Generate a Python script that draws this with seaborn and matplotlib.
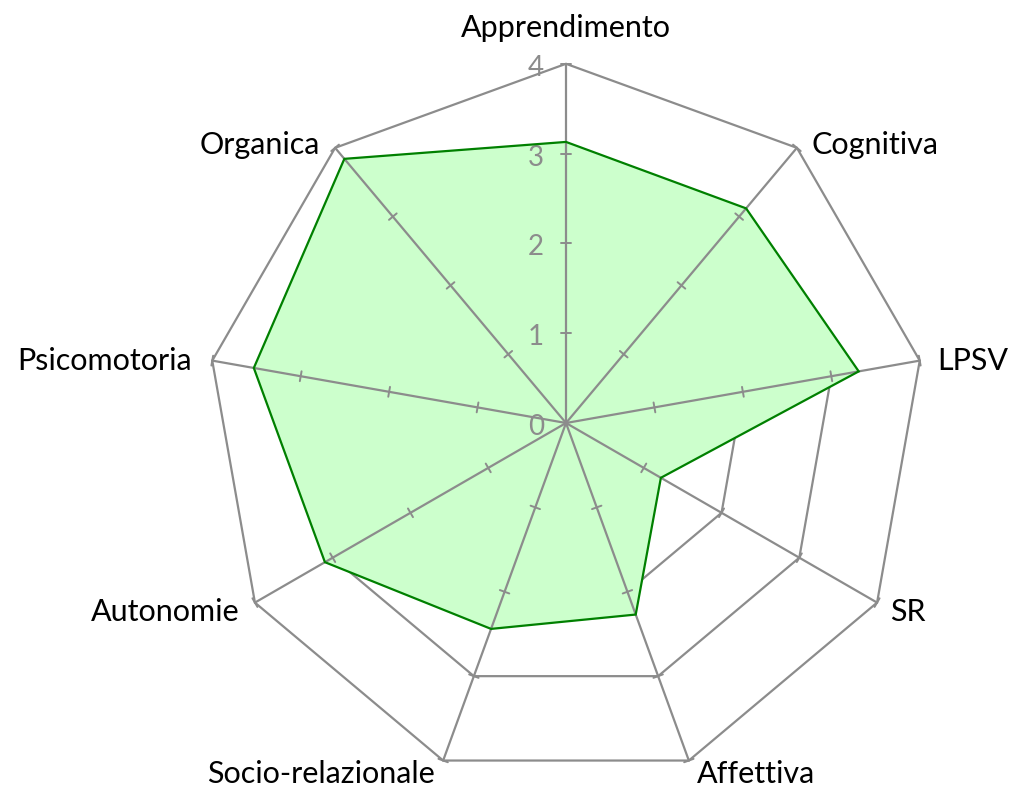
import numpy as np
import matplotlib
matplotlib.use("Agg")
import matplotlib.pyplot as plt
import seaborn as sns

# dati del grafico radar
categorie = ["Apprendimento", "Cognitiva", "LPSV", "SR", "Affettiva",
             "Socio-relazionale", "Autonomie", "Psicomotoria", "Organica"]
valori = [3.13, 3.12, 3.31, 1.22, 2.27, 2.44, 3.10, 3.53, 3.84]
livelli = [0, 1, 2, 3, 4]
etichette_livelli = ["0", "1", "2", "3", "4"]

# offset delle etichette (pixel) e allineamento
label_offsets = [(0, 36, "center"), (15, 3, "left"), (18, 0, "left"),
                 (13, -9, "left"), (8, -13, "left"), (-8, -13, "right"),
                 (-15, -9, "right"), (-20, 0, "right"), (-15, 3, "right")]

sns.set_theme(style="white")
plt.rcParams["font.family"] = ["Lato", "DejaVu Sans"]
plt.rcParams["path.simplify"] = False

W, H, DPI = 1014, 789, 100
cx, cy, scale = 566, 423, 89.8  # centro e pixel per unita

fig = plt.figure(figsize=(W / DPI, H / DPI), dpi=DPI)
ax = fig.add_axes([0, 0, 1, 1])
ax.set_xlim(-cx / scale, (W - cx) / scale)
ax.set_ylim(-(H - cy) / scale, cy / scale)
ax.set_axis_off()

n = len(categorie)
theta = np.deg2rad(90 - 360 / n * np.arange(n))
ux, uy = np.round(np.cos(theta), 12), np.round(np.sin(theta), 12)

grid_col = "#8c8c8c"

# anelli poligonali (sotto il riempimento)
for r in livelli[1:]:
    ax.fill(r * ux, r * uy, facecolor="none", edgecolor=grid_col,
            lw=1.6, zorder=1, joinstyle="miter")

# area dei valori
v = np.array(valori)
ax.fill(v * ux, v * uy, facecolor="#ccffcc", edgecolor="none", zorder=2)

# raggi e tacche
tick_half = 5 / scale
for i in range(n):
    ax.plot([0, livelli[-1] * ux[i]], [0, livelli[-1] * uy[i]],
            color=grid_col, lw=1.6, zorder=3)
    px, py = -uy[i], ux[i]
    for r in livelli[1:]:
        ax.plot([r * ux[i] - tick_half * px, r * ux[i] + tick_half * px],
                [r * uy[i] - tick_half * py, r * uy[i] + tick_half * py],
                color=grid_col, lw=1.4, zorder=3)

# contorno
ax.fill(v * ux, v * uy, facecolor="none", edgecolor="#008000",
        lw=1.6, zorder=4)

# etichette delle categorie
for i, nome in enumerate(categorie):
    dx, dy, ha = label_offsets[i]
    ax.annotate(nome, (livelli[-1] * ux[i], livelli[-1] * uy[i]),
                xytext=(dx, dy), textcoords="offset pixels",
                ha=ha, va="center", fontsize=22, color="black")

# etichette dei livelli
for r, lab in zip(livelli, etichette_livelli):
    ax.annotate(lab, (0, r), xytext=(-22, -4), textcoords="offset pixels",
                ha="right", va="center", fontsize=20, color="#8c8c8c")

fig.savefig("out.png", dpi=DPI)
